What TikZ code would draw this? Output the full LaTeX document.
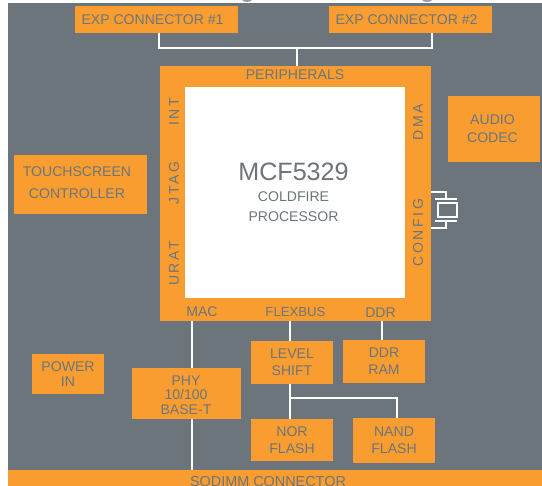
\documentclass[tikz,border=0pt]{standalone}
\usepackage{fontspec}
\setmainfont{Liberation Sans}
\definecolor{slate}{HTML}{6B757B}
\definecolor{amber}{HTML}{F99D31}
\tikzset{
    block/.style={fill=amber,text=slate,align=center,inner sep=0pt,font=\fontsize{8}{9.8}\selectfont},
    tightblock/.style={block,font=\fontsize{8}{8.2}\selectfont},
    tag/.style={text=slate,align=center,inner sep=0pt,font=\fontsize{8}{9.6}\selectfont},
    sidetag/.style={text=slate,inner sep=0pt,rotate=90,font=\fontsize{8}{9.6}\selectfont\addfontfeature{LetterSpace=18}},
    wire/.style={draw=white,line width=0.7pt},
}
\begin{document}
\begin{tikzpicture}[x=0.02cm,y=-0.02cm]
    \useasboundingbox (0,0) rectangle (542,486);
    \fill[slate] (8,3) rectangle (542,486);
    \fill[slate!70] (247,0) ellipse (5 and 2);
    \fill[slate!70] (427,0) ellipse (5 and 2);
    % top row
    \node[block,minimum width=163*0.02cm,minimum height=27*0.02cm] (exp1) at (156.5,19.5) {};
    \node[block,minimum width=163*0.02cm,minimum height=27*0.02cm] (exp2) at (410.5,19.5) {};
    \node[tag] (exp1text) at (152.5,20) {EXP CONNECTOR \#1};
    \node[tag] (exp2text) at (406.5,20) {EXP CONNECTOR \#2};
    % processor
    \node[block,minimum width=271*0.02cm,minimum height=255*0.02cm] (cpu) at (295.5,193.5) {};
    \node[fill=white,minimum width=220*0.02cm,minimum height=211*0.02cm] (core) at (295,192.5) {};
    \node[tag] (periph) at (295,74.5) {PERIPHERALS};
    \node[sidetag] (int) at (174,112) {INT};
    \node[sidetag] (jtag) at (174,183) {JTAG};
    \node[sidetag] (urat) at (174,263.5) {URAT};
    \node[sidetag] (dma) at (418,122) {DMA};
    \node[sidetag] (config) at (418,232.5) {CONFIG};
    \node[tag] (mac) at (202,312) {MAC};
    \node[tag,font=\fontsize{7.5}{9}\selectfont] (flexbus) at (295.5,312) {FLEXBUS};
    \node[tag] (ddr) at (380.5,313) {DDR};
    \node[text=slate,inner sep=0pt,font=\fontsize{14.3}{17}\selectfont] (mcf) at (293.5,172) {MCF5329};
    \node[text=slate,align=center,inner sep=0pt,font=\fontsize{8}{11.3}\selectfont] (coldfire) at (293.5,207) {COLDFIRE\\PROCESSOR};
    % side blocks
    \node[block,minimum width=92*0.02cm,minimum height=66*0.02cm] (audio) at (494,129) {};
    \node[tag,font=\fontsize{8}{10.2}\selectfont] (audiotext) at (492.5,129) {AUDIO\\CODEC};
    \node[block,minimum width=133*0.02cm,minimum height=59*0.02cm] (touch) at (80.5,184.5) {};
    \node[tag,font=\fontsize{8}{12.5}\selectfont] (touchtext) at (77,183) {TOUCHSCREEN\\CONTROLLER};
    \node[tightblock,minimum width=72*0.02cm,minimum height=40*0.02cm] (power) at (68,374) {POWER\\IN};
    \node[tightblock,minimum width=109*0.02cm,minimum height=51*0.02cm] (phy) at (186.5,393.5) {};
    \node[tag,font=\fontsize{8}{8.2}\selectfont] (phytext) at (186,395) {PHY\\10/100\\BASE-T};
    \node[block,minimum width=82*0.02cm,minimum height=43*0.02cm] (level) at (292,362.5) {LEVEL\\SHIFT};
    \node[block,minimum width=82*0.02cm,minimum height=43*0.02cm] (ddrram) at (384,361.5) {DDR\\RAM};
    \node[block,minimum width=82*0.02cm,minimum height=42*0.02cm] (nor) at (292,440) {NOR\\FLASH};
    \node[block,minimum width=82*0.02cm,minimum height=45*0.02cm] (nand) at (394,440.5) {NAND\\FLASH};
    \node[block,minimum width=534*0.02cm,minimum height=16*0.02cm] (sodimm) at (275,478) {};
    \node[tag,font=\fontsize{8.2}{9.6}\selectfont] (sodimmtext) at (268,481.5) {SODIMM CONNECTOR};
    % connectors
    \coordinate (expbus) at (297,48);
    \coordinate (expa) at (159,48);
    \coordinate (expb) at (432,48);
    \draw[wire] (expa |- exp1.south) -- (expa) -- (expb) -- (expb |- exp2.south);
    \draw[wire] (expbus) -- (expbus |- cpu.north);
    \coordinate (macbus) at (192,345);
    \draw[wire] (macbus |- cpu.south) -- (macbus |- phy.north);
    \draw[wire] (macbus |- phy.south) -- (macbus |- sodimm.north);
    \coordinate (flexlink) at (290,398);
    \coordinate (nandlink) at (397,398);
    \draw[wire] (flexlink |- cpu.south) -- (flexlink |- level.north);
    \draw[wire] (flexlink |- level.south) -- (flexlink |- nor.north);
    \draw[wire] (flexlink) -- (nandlink) -- (nandlink |- nand.north);
    \coordinate (ddrlink) at (382,330);
    \draw[wire] (ddrlink |- cpu.south) -- (ddrlink |- ddrram.north);
    % crystal
    \coordinate (xtaltop) at (446,199);
    \coordinate (xtalbot) at (446,221);
    \node[draw=white,line width=0.7pt,minimum width=19*0.02cm,minimum height=14*0.02cm,inner sep=0pt] (xtal) at (447.5,210) {};
    \draw[wire] (cpu.east |- 0,192) -- (xtaltop |- 0,192) -- (xtaltop);
    \draw[wire] (cpu.east |- 0,228) -- (xtalbot |- 0,228) -- (xtalbot);
    \draw[wire] (435,199) -- (457,199);
    \draw[wire] (435,221) -- (457,221);
\end{tikzpicture}
\end{document}
